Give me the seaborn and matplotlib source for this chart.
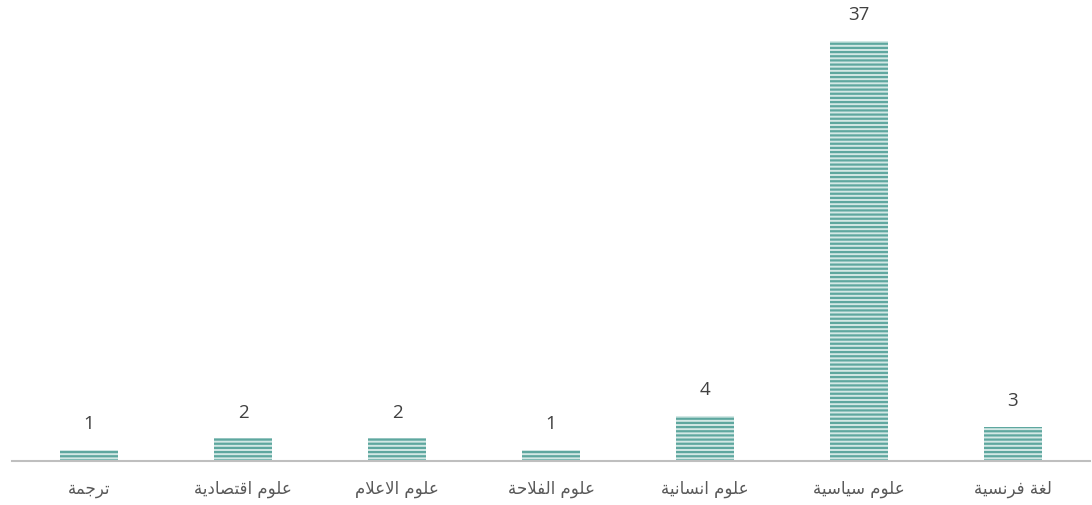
import matplotlib
matplotlib.use("Agg")
import matplotlib.pyplot as plt
import seaborn as sns
import pandas as pd

# Data
categories = ['ترجمة', 'علوم اقتصادية', 'علوم الاعلام', 'علوم الفلاحة',
              'علوم انسانية', 'علوم سياسية', 'لغة فرنسية']
counts = [1, 2, 2, 1, 4, 37, 3]

# Arabic presentation forms: (isolated, final, initial, medial)
FORMS = {
    'ا': ('\uFE8D', '\uFE8E', None, None),
    'ت': ('\uFE95', '\uFE96', '\uFE97', '\uFE98'),
    'ة': ('\uFE93', '\uFE94', None, None),
    'ج': ('\uFE9D', '\uFE9E', '\uFE9F', '\uFEA0'),
    'ح': ('\uFEA1', '\uFEA2', '\uFEA3', '\uFEA4'),
    'د': ('\uFEA9', '\uFEAA', None, None),
    'ر': ('\uFEAD', '\uFEAE', None, None),
    'س': ('\uFEB1', '\uFEB2', '\uFEB3', '\uFEB4'),
    'ص': ('\uFEB9', '\uFEBA', '\uFEBB', '\uFEBC'),
    'ع': ('\uFEC9', '\uFECA', '\uFECB', '\uFECC'),
    'غ': ('\uFECD', '\uFECE', '\uFECF', '\uFED0'),
    'ف': ('\uFED1', '\uFED2', '\uFED3', '\uFED4'),
    'ق': ('\uFED5', '\uFED6', '\uFED7', '\uFED8'),
    'ل': ('\uFEDD', '\uFEDE', '\uFEDF', '\uFEE0'),
    'م': ('\uFEE1', '\uFEE2', '\uFEE3', '\uFEE4'),
    'ن': ('\uFEE5', '\uFEE6', '\uFEE7', '\uFEE8'),
    'و': ('\uFEED', '\uFEEE', None, None),
    'ي': ('\uFEF1', '\uFEF2', '\uFEF3', '\uFEF4'),
    'لا': ('\uFEFB', '\uFEFC', None, None),
}


def shape_arabic(text):
    """Join Arabic letters into their contextual forms and reverse for LTR drawing."""
    letters = []
    i = 0
    while i < len(text):
        if text[i] == 'ل' and i + 1 < len(text) and text[i + 1] == 'ا':
            letters.append('لا')
            i += 2
        else:
            letters.append(text[i])
            i += 1
    out = []
    for k, c in enumerate(letters):
        if c not in FORMS:
            out.append(c)
            continue
        prev = letters[k - 1] if k > 0 else None
        nxt = letters[k + 1] if k + 1 < len(letters) else None
        f = FORMS[c]
        join_prev = prev in FORMS and FORMS[prev][2] is not None
        join_next = f[2] is not None and nxt in FORMS
        if join_prev and join_next:
            out.append(f[3])
        elif join_prev:
            out.append(f[1])
        elif join_next:
            out.append(f[2])
        else:
            out.append(f[0])
    return ''.join(out)[::-1]


df = pd.DataFrame({'cat': categories, 'n': counts})

sns.set_style('white')
plt.rcParams['font.family'] = ['DejaVu Sans']
plt.rcParams['hatch.linewidth'] = 1.6

fig = plt.figure(figsize=(10.92, 5.05), dpi=100)
ax = fig.add_axes([12 / 1092, 44 / 505, 1078 / 1092, 454 / 505])

sns.barplot(data=df, x='cat', y='n', color='#d3e8e5', width=0.38,
            saturation=1, ax=ax)
for p in ax.patches:
    p.set_hatch('----')
    p.set_edgecolor('#5ea79f')
    p.set_linewidth(0)

ax.set_xlim(-0.5, len(categories) - 0.5)
ax.set_ylim(0, 40)
ax.set_xlabel('')
ax.set_ylabel('')
ax.set_yticks([])
ax.set_xticks(range(len(categories)))
ax.set_xticklabels([shape_arabic(c) for c in categories], fontsize=12,
                   color='#595959')
ax.tick_params(axis='x', length=0, pad=14)

for s in ['top', 'left', 'right']:
    ax.spines[s].set_visible(False)
ax.spines['bottom'].set_color('#bfbfbf')
ax.spines['bottom'].set_linewidth(1.5)

for i, v in enumerate(counts):
    ax.annotate(str(v), (i, v), xytext=(0, 12), textcoords='offset points',
                ha='center', va='bottom', fontsize=13.5, color='#404040',
                family=['Open Sans', 'DejaVu Sans'])

fig.savefig('out.png', dpi=100)
